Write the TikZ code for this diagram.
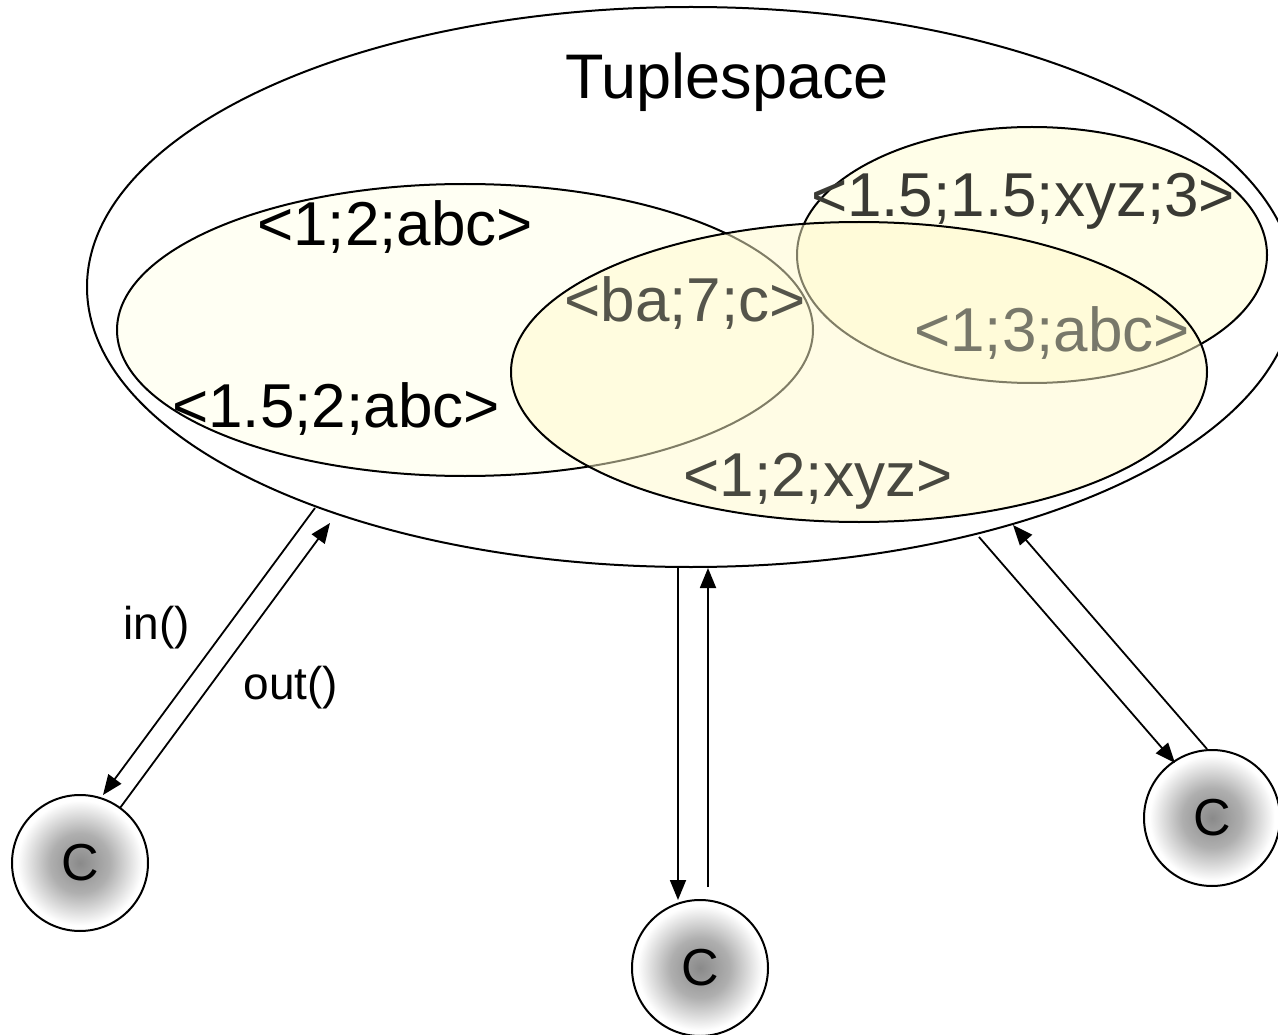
\documentclass[tikz,border=0pt]{standalone}
\usepackage{fontspec}
\setmainfont{Liberation Sans}
\usetikzlibrary{shapes.geometric,arrows.meta}
\definecolor{fillL}{RGB}{255,255,243}
\definecolor{fillM}{RGB}{255,250,204}
\definecolor{fillT}{RGB}{255,254,232}
\definecolor{txtB}{RGB}{85,85,75}
\definecolor{txtC}{RGB}{58,58,52}
\definecolor{txtD}{RGB}{120,120,106}
\definecolor{txtE}{RGB}{72,72,64}
\definecolor{ccore}{RGB}{138,138,138}
\definecolor{cmid}{RGB}{175,175,175}
\pgfdeclareradialshading{clientshade}{\pgfpoint{0bp}{0bp}}{color(0bp)=(ccore); color(11bp)=(cmid); color(23bp)=(white); color(50bp)=(white)}
\begin{document}
\begin{tikzpicture}[x=1pt,y=-1pt,
  ell/.style={ellipse, draw=black, line width=2pt, inner sep=0pt},
  tuple/.style={anchor=base, font=\fontsize{62}{70}\selectfont, inner sep=0pt},
  oplabel/.style={font=\fontsize{46}{54}\selectfont, inner sep=0pt},
  client/.style={circle, draw=black, line width=2pt, minimum size=136pt, inner sep=0pt,
    shading=clientshade, font=\fontsize{52}{60}\selectfont},
  arr/.style={line width=1.8pt, -{Triangle[length=20pt,width=16pt]}}
]
\useasboundingbox (0,0) rectangle (1278,1035);
% tuplespace
\node[ell, minimum width=1208pt, minimum height=560pt] (ts) at (691,287) {};
\node[ell, fill=fillL, minimum width=696pt, minimum height=292pt] (eL) at (465,330) {};
\node[ell, fill=fillT, minimum width=470pt, minimum height=256pt] (eT) at (1032,255) {};
\node[ell, fill=fillM, fill opacity=0.5, minimum width=696pt, minimum height=300pt] (eM) at (859,372) {};
% texts
\node[anchor=base, font=\fontsize{63}{70}\selectfont, inner sep=0pt] (title) at (727,99) {Tuplespace};
\node[tuple] (t1) at (395,246) {<1;2;abc>};
\node[tuple] (t2) at (336,427) {<1.5;2;abc>};
\node[tuple, text=txtB] (t3) at (685,322) {<ba;7;c>};
\node[tuple, text=txtC] (t4) at (1023,217) {<1.5;1.5;xyz;3>};
\node[tuple, text=txtD] (t5) at (1052,352) {<1;3;abc>};
\node[tuple, text=txtE] (t6) at (818,496) {<1;2;xyz>};
% clients
\node[client] (c1) at (80,863) {C};
\node[client] (c2) at (700,968) {C};
\node[client] (c3) at (1212,818) {C};
% connector endpoints
\coordinate (l1a) at (315,508);
\coordinate (l1b) at (103,795);
\coordinate (l2a) at (120,808);
\coordinate (l2b) at (330,523);
\coordinate (m1a) at (678,568);
\coordinate (m1b) at (678,900);
\coordinate (m2a) at (708,887);
\coordinate (m2b) at (708,568);
\coordinate (r1a) at (979,537);
\coordinate (r1b) at (1175,763);
\coordinate (r2a) at (1207,749);
\coordinate (r2b) at (1013,525);
\draw[arr] (l1a) -- (l1b);
\draw[arr] (l2a) -- (l2b);
\draw[arr] (m1a) -- (m1b);
\draw[arr] (m2a) -- (m2b);
\draw[arr] (r1a) -- (r1b);
\draw[arr] (r2a) -- (r2b);
% labels
\node[oplabel] (lin) at (157,628) {in()};
\node[oplabel] (lout) at (291,688) {out()};
\end{tikzpicture}
\end{document}
